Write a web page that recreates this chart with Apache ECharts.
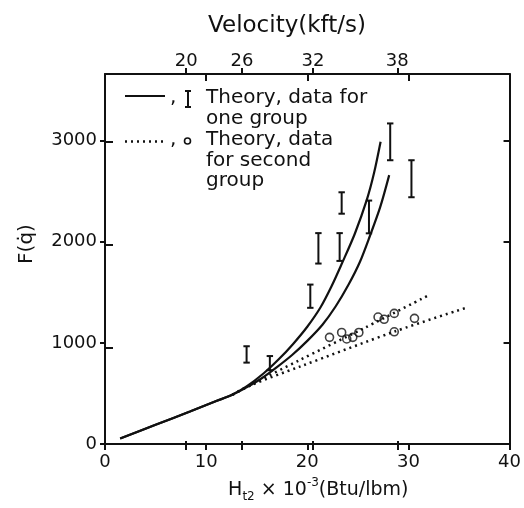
<!DOCTYPE html>
<html><head><meta charset="utf-8">
<script src="https://cdn.jsdelivr.net/npm/echarts@6/dist/echarts.min.js"></script>
<style>html,body{margin:0;padding:0;background:#fff}#c{width:524px;height:508px}</style>
</head><body><div id="c"></div>
<script>
// ---- data ----
const hTicks = [0, 10, 20, 30, 40];
const fTicks = [0, 1000, 2000, 3000];
const innerTicksH = [10, 20, 30];
const innerTicksF = [1000, 2000, 3000];
const velLabels = ['20', '26', '32', '38'];
const velTickH = [8.0, 13.5, 20.5, 28.8];

// Theory, group one (solid)
const solidAH = [1.5, 5, 8.4, 11, 12.6, 14, 15.7, 17.2, 18.6, 20, 21.3, 22.4, 23.4, 24.7, 25.9, 26.6, 27.25];
const solidAF = [55, 190, 321, 425, 490, 570, 700, 840, 990, 1160, 1350, 1560, 1780, 2080, 2420, 2680, 2990];
const solidBH = [1.5, 5, 8.4, 11, 12.6, 14, 15.5, 17, 18.5, 20, 21.5, 22.8, 24.1, 25.2, 26.2, 27.2, 28.1];
const solidBF = [55, 190, 321, 425, 487, 560, 650, 760, 880, 1020, 1180, 1360, 1580, 1800, 2060, 2340, 2660];
// Theory, group two (dotted)
const dotAH = [12.6, 14.5, 19.2, 25.7, 32.1];
const dotAF = [487, 590, 828, 1150, 1477];
const dotBH = [12.6, 14.5, 19.2, 28.7, 35.7];
const dotBF = [487, 585, 763, 1115, 1347];
// Data, group one (error bars)
const barH = [14.0, 16.3, 20.3, 21.1, 23.2, 23.4, 26.1, 28.2, 30.3];
const barLow = [805, 730, 1347, 1785, 1811, 2278, 2084, 2807, 2441];
const barHigh = [967, 870, 1577, 2086, 2086, 2490, 2408, 3171, 2807];
// Data, group two (circles)
const circH = [22.2, 23.4, 23.9, 24.5, 25.1, 27.0, 27.6, 28.6, 28.6, 30.6];
const circF = [1055, 1103, 1039, 1055, 1103, 1256, 1234, 1292, 1110, 1243];

// ---- chart ----
const FONT = 'DejaVu Sans';
const INK = '#111';
const zip = (a, b) => a.map((v, i) => [v, b[i]]);
const chart = echarts.init(document.getElementById('c'), null, {renderer: 'canvas'});

const gridRect = {left: 105, right: 13, top: 74, bottom: 58};
const baseX = {type: 'value', min: 0, max: 40, splitLine: {show: false}};
const baseY = {type: 'value', min: 0, max: 3660, splitLine: {show: false}};
const plain = v => String(v);

const option = {
  backgroundColor: '#fff',
  animation: false,
  grid: [Object.assign({}, gridRect), Object.assign({}, gridRect)],
  xAxis: [
    Object.assign({}, baseX, {
      gridIndex: 0, position: 'bottom', interval: 10,
      axisLine: {show: true, onZero: false, lineStyle: {color: INK, width: 2}},
      axisTick: {show: true, inside: false, length: 6, customValues: hTicks, lineStyle: {color: INK, width: 2}},
      axisLabel: {customValues: hTicks, formatter: plain, color: INK, fontSize: 18, fontFamily: FONT, margin: 9},
      name: '{n|H}{sub|t2}{n| × 10}{sup|-3}{n|(Btu/lbm)}',
      nameLocation: 'middle', nameGap: 33,
      nameTextStyle: {padding: [0, 0, 0, 22], rich: {
        n: {fontSize: 19, fontFamily: FONT, color: INK, lineHeight: 26, verticalAlign: 'middle'},
        sub: {fontSize: 12, fontFamily: FONT, color: INK, lineHeight: 12, verticalAlign: 'bottom'},
        sup: {fontSize: 12, fontFamily: FONT, color: INK, lineHeight: 12, verticalAlign: 'top'}
      }}
    }),
    Object.assign({}, baseX, {
      gridIndex: 0, position: 'top', interval: 10,
      axisLine: {show: true, onZero: false, lineStyle: {color: INK, width: 2}},
      axisTick: {show: true, inside: true, length: 7, customValues: innerTicksH, lineStyle: {color: INK, width: 2}},
      axisLabel: {show: false}
    }),
    Object.assign({}, baseX, {
      gridIndex: 1, position: 'top',
      axisLine: {show: false, onZero: false},
      axisTick: {show: true, inside: false, length: 6, customValues: velTickH, lineStyle: {color: INK, width: 2}},
      axisLabel: {show: true, customValues: velTickH, color: INK, fontSize: 18, fontFamily: FONT, margin: 4,
        formatter: function (v) {
          for (let i = 0; i < velTickH.length; i++) if (Math.abs(velTickH[i] - v) < 1e-6) return velLabels[i];
          return '';
        }},
      name: 'Velocity(kft/s)', nameLocation: 'middle', nameGap: 36,
      nameTextStyle: {fontSize: 23, fontFamily: FONT, color: INK, padding: [0, 42, 0, 0]}
    }),
    Object.assign({}, baseX, {
      gridIndex: 1, position: 'bottom',
      axisLine: {show: false, onZero: false},
      axisTick: {show: true, inside: true, length: 9, customValues: velTickH, lineStyle: {color: INK, width: 2}},
      axisLabel: {show: false}
    })
  ],
  yAxis: [
    Object.assign({}, baseY, {
      gridIndex: 0, position: 'left',
      axisLine: {show: true, onZero: false, lineStyle: {color: INK, width: 2}},
      axisTick: {show: true, inside: false, length: 5, customValues: fTicks, lineStyle: {color: INK, width: 2}},
      axisLabel: {customValues: fTicks, formatter: plain, color: INK, fontSize: 18, fontFamily: FONT, margin: 8},
      name: 'F(q̇)', nameLocation: 'middle', nameGap: 68, nameRotate: 90,
      nameTextStyle: {fontSize: 20, fontFamily: FONT, color: INK, padding: [0, 0, 0, 30]}
    }),
    Object.assign({}, baseY, {
      gridIndex: 0, position: 'right',
      axisLine: {show: true, onZero: false, lineStyle: {color: INK, width: 2}},
      axisTick: {show: true, inside: true, length: 6, customValues: innerTicksF, lineStyle: {color: INK, width: 2}},
      axisLabel: {show: false}
    }),
    Object.assign({}, baseY, {
      gridIndex: 1, position: 'left',
      axisLine: {show: false, onZero: false},
      axisTick: {show: true, inside: true, length: 8, customValues: innerTicksF, lineStyle: {color: INK, width: 2}},
      axisLabel: {show: false}
    })
  ],
  series: [
    {type: 'line', xAxisIndex: 0, yAxisIndex: 0, data: zip(solidAH, solidAF), smooth: 0.3,
      showSymbol: false, lineStyle: {color: INK, width: 2.2}, z: 3},
    {type: 'line', xAxisIndex: 0, yAxisIndex: 0, data: zip(solidBH, solidBF), smooth: 0.3,
      showSymbol: false, lineStyle: {color: INK, width: 2.2}, z: 3},
    {type: 'line', xAxisIndex: 0, yAxisIndex: 0, data: zip(dotAH, dotAF), smooth: 0.3,
      showSymbol: false, lineStyle: {color: INK, width: 2.5, type: [2, 4]}, z: 2},
    {type: 'line', xAxisIndex: 0, yAxisIndex: 0, data: zip(dotBH, dotBF), smooth: 0.3,
      showSymbol: false, lineStyle: {color: INK, width: 2.5, type: [2, 4]}, z: 2},
    {type: 'custom', xAxisIndex: 0, yAxisIndex: 0,
      data: barH.map((h, i) => [h, barLow[i], barHigh[i]]),
      encode: {x: 0, y: [1, 2]},
      renderItem: function (params, api) {
        const x = api.value(0);
        const pLo = api.coord([x, api.value(1)]);
        const pHi = api.coord([x, api.value(2)]);
        const w = 3.2;
        const st = {stroke: INK, lineWidth: 2};
        return {type: 'group', children: [
          {type: 'line', shape: {x1: pLo[0], y1: pLo[1], x2: pHi[0], y2: pHi[1]}, style: st},
          {type: 'line', shape: {x1: pLo[0] - w, y1: pLo[1], x2: pLo[0] + w, y2: pLo[1]}, style: st},
          {type: 'line', shape: {x1: pHi[0] - w, y1: pHi[1], x2: pHi[0] + w, y2: pHi[1]}, style: st}
        ]};
      }, z: 4},
    {type: 'scatter', xAxisIndex: 0, yAxisIndex: 0, data: zip(circH, circF),
      symbol: 'circle', symbolSize: 8,
      itemStyle: {color: 'rgba(0,0,0,0)', borderColor: INK, borderWidth: 1.6}, z: 4}
  ],
  graphic: [
    // legend row 1
    {type: 'line', shape: {x1: 125, y1: 96, x2: 165, y2: 96}, style: {stroke: INK, lineWidth: 2.2}},
    {type: 'text', x: 170, y: 98, style: {text: ',', font: '20px ' + FONT, fill: INK, verticalAlign: 'middle'}},
    {type: 'line', shape: {x1: 188, y1: 91, x2: 188, y2: 107}, style: {stroke: INK, lineWidth: 2}},
    {type: 'line', shape: {x1: 185, y1: 91, x2: 191, y2: 91}, style: {stroke: INK, lineWidth: 2}},
    {type: 'line', shape: {x1: 185, y1: 107, x2: 191, y2: 107}, style: {stroke: INK, lineWidth: 2}},
    {type: 'text', x: 206, y: 98, style: {text: 'Theory, data for', font: '20px ' + FONT, fill: INK, verticalAlign: 'middle'}},
    {type: 'text', x: 206, y: 119, style: {text: 'one group', font: '20px ' + FONT, fill: INK, verticalAlign: 'middle'}},
    // legend row 2
    {type: 'line', shape: {x1: 125, y1: 141.5, x2: 164, y2: 141.5}, style: {stroke: INK, lineWidth: 2.5, lineDash: [2, 4]}},
    {type: 'text', x: 170, y: 140, style: {text: ',', font: '20px ' + FONT, fill: INK, verticalAlign: 'middle'}},
    {type: 'circle', shape: {cx: 187.5, cy: 141, r: 3}, style: {fill: 'none', stroke: INK, lineWidth: 1.6}},
    {type: 'text', x: 206, y: 140, style: {text: 'Theory, data', font: '20px ' + FONT, fill: INK, verticalAlign: 'middle'}},
    {type: 'text', x: 206, y: 160.5, style: {text: 'for second', font: '20px ' + FONT, fill: INK, verticalAlign: 'middle'}},
    {type: 'text', x: 206, y: 181, style: {text: 'group', font: '20px ' + FONT, fill: INK, verticalAlign: 'middle'}}
  ]
};
chart.setOption(option);
</script>
</body></html>
